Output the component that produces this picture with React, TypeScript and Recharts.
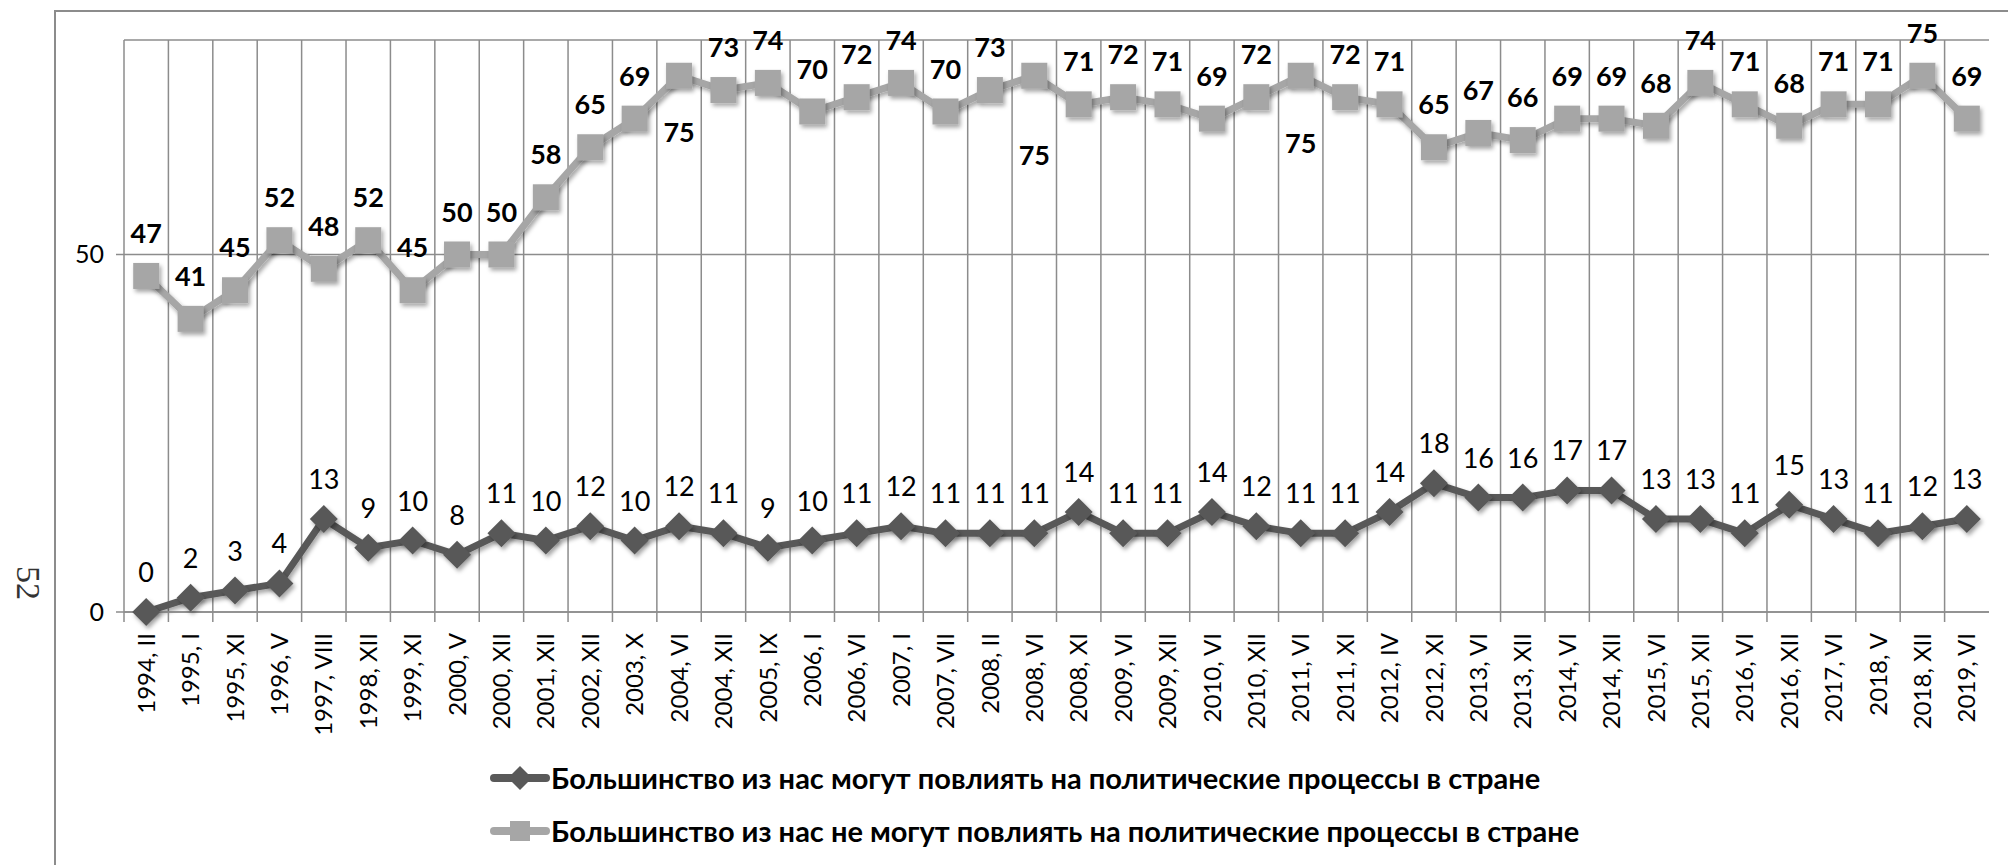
import React from 'react';
import { LineChart, Line, XAxis, YAxis, CartesianGrid, LabelList, Legend } from 'recharts';

const periods = [
  '1994, II', '1995, I', '1995, XI', '1996, V', '1997, VIII', '1998, XII', '1999, XI', '2000, V',
  '2000, XII', '2001, XII', '2002, XII', '2003, X', '2004, VI', '2004, XII', '2005, IX', '2006, I',
  '2006, VI', '2007, I', '2007, VII', '2008, II', '2008, VI', '2008, XI', '2009, VI', '2009, XII',
  '2010, VI', '2010, XII', '2011, VI', '2011, XI', '2012, IV', '2012, XI', '2013, VI', '2013, XII',
  '2014, VI', '2014, XII', '2015, VI', '2015, XII', '2016, VI', '2016, XII', '2017, VI', '2018, V',
  '2018, XII', '2019, VI',
];

const canInfluence = [
  0, 2, 3, 4, 13, 9, 10, 8, 11, 10, 12, 10, 12, 11, 9, 10, 11, 12, 11, 11, 11,
  14, 11, 11, 14, 12, 11, 11, 14, 18, 16, 16, 17, 17, 13, 13, 11, 15, 13, 11, 12, 13,
];

const cannotInfluence = [
  47, 41, 45, 52, 48, 52, 45, 50, 50, 58, 65, 69, 75, 73, 74, 70, 72, 74, 70, 73, 75,
  71, 72, 71, 69, 72, 75, 72, 71, 65, 67, 66, 69, 69, 68, 74, 71, 68, 71, 71, 75, 69,
];

const yTicks = [0, 50];

const seriesNames = [
  'Большинство из нас могут повлиять на политические процессы в стране',
  'Большинство из нас не могут повлиять на политические процессы в стране',
];

const pageNumber = '52';

// periods whose upper-series label is placed below the marker (label placement only)
const labelBelowOffset: Record<string, number> = { '2004, VI': 66, '2008, VI': 89, '2011, VI': 77 };

const data = periods.map((p, i) => ({ period: p, can: canInfluence[i], cannot: cannotInfluence[i] }));

const W = 2008;
const H = 865;
const MARGIN = { top: 40, right: 19, left: 0, bottom: 0 };
const Y_AXIS_W = 124;
const X_AXIS_H = 253;
const PLOT_W = W - MARGIN.left - MARGIN.right - Y_AXIS_W;
const BAND = PLOT_W / periods.length;
const FONT = 'Lato, "Open Sans", sans-serif';
const GRID = '#8c8c8c';
const DARK = '#595959';
const LIGHT = '#a6a6a6';

const XTick = (props: any) => {
  const { x, y, payload } = props;
  return (
    <g>
      <line x1={x - BAND / 2} x2={x - BAND / 2} y1={y} y2={y + 10} stroke={GRID} strokeWidth={1.5} />
      <text
        transform={`translate(${x},${y + 21}) rotate(-90)`}
        textAnchor="end"
        dy="0.36em"
        fontFamily={FONT}
        fontSize={24}
        fill="#000"
      >
        {payload.value}
      </text>
    </g>
  );
};

const SquareDot = (props: any) => {
  const { cx, cy, index } = props;
  if (cx == null || cy == null) return null;
  return <rect key={`sq-${index}`} x={cx - 13} y={cy - 13} width={26} height={26} fill={LIGHT} filter="url(#sh)" />;
};

const DiamondDot = (props: any) => {
  const { cx, cy, index } = props;
  if (cx == null || cy == null) return null;
  const r = 14;
  return (
    <polygon
      key={`dm-${index}`}
      points={`${cx},${cy - r} ${cx + r},${cy} ${cx},${cy + r} ${cx - r},${cy}`}
      fill={DARK}
      filter="url(#sh)"
    />
  );
};

const TopLabel = (props: any) => {
  const { x, y, value, index } = props;
  const off = labelBelowOffset[periods[index]];
  const ty = off !== undefined ? y + off : y - 33;
  return (
    <text x={x} y={ty} textAnchor="middle" fontFamily={FONT} fontWeight={700} fontSize={27} fill="#000">
      {value}
    </text>
  );
};

const BottomLabel = (props: any) => {
  const { x, y, value } = props;
  return (
    <text x={x} y={y - 30} textAnchor="middle" fontFamily={FONT} fontSize={27} fill="#000">
      {value}
    </text>
  );
};

const LegendContent = () => (
  <div style={{ display: 'flex', flexDirection: 'column' }}>
    {seriesNames.map((name, i) => (
      <div key={name} style={{ display: 'flex', alignItems: 'center', height: 53 }}>
        <svg width={62} height={30} style={{ flex: 'none' }}>
          <line x1={5} x2={57} y1={15} y2={15} stroke={i === 0 ? DARK : LIGHT} strokeWidth={8} strokeLinecap="round" />
          {i === 0 ? (
            <polygon points="31,3 43,15 31,27 19,15" fill={DARK} />
          ) : (
            <rect x={21} y={5} width={20} height={20} fill={LIGHT} />
          )}
        </svg>
        <span style={{ fontFamily: FONT, fontWeight: 700, fontSize: 29, color: '#000', whiteSpace: 'nowrap' }}>{name}</span>
      </div>
    ))}
  </div>
);

export default function App() {
  return (
    <div style={{ position: 'fixed', left: 0, top: 0, width: W, height: H, overflow: 'hidden', background: '#fff' }}>
      <svg width={0} height={0} style={{ position: 'absolute' }}>
        <defs>
          <filter id="sh" x="-60%" y="-60%" width="220%" height="220%">
            <feDropShadow dx={2} dy={3} stdDeviation={2} floodColor="#000" floodOpacity={0.35} />
          </filter>
        </defs>
      </svg>
      <div
        style={{
          position: 'absolute',
          left: 54,
          top: 10,
          width: 2200,
          height: 1000,
          borderLeft: '2px solid #8c8c8c',
          borderTop: '2px solid #8c8c8c',
        }}
      />
      <div
        style={{
          position: 'absolute',
          left: 28,
          top: 583,
          transform: 'translate(-50%, -50%) rotate(90deg)',
          fontFamily: '"Liberation Serif", serif',
          fontSize: 34,
          color: '#333',
        }}
      >
        {pageNumber}
      </div>
      <div style={{ position: 'absolute', left: 0, top: 0 }}>
        <LineChart width={W} height={H} data={data} margin={MARGIN}>
          <CartesianGrid
            stroke={GRID}
            strokeWidth={1.5}
            horizontal={true}
            vertical={true}
            verticalCoordinatesGenerator={({ offset }: any) =>
              periods.map((_, i) => offset.left + (i * offset.width) / periods.length)
            }
          />
          <XAxis
            dataKey="period"
            interval={0}
            height={X_AXIS_H}
            padding={{ left: BAND / 2, right: BAND / 2 }}
            tickSize={0}
            tickMargin={0}
            tickLine={false}
            axisLine={{ stroke: GRID, strokeWidth: 1.5 }}
            tick={<XTick />}
          />
          <YAxis
            domain={[0, 80]}
            ticks={yTicks}
            width={Y_AXIS_W}
            axisLine={false}
            tickSize={8}
            tickMargin={12}
            tickLine={{ stroke: GRID, strokeWidth: 1.5 }}
            tick={{ fontFamily: FONT, fontSize: 25, fill: '#000' }}
          />
          <Legend
            layout="horizontal"
            verticalAlign="middle"
            align="center"
            wrapperStyle={{ left: 489, top: 751, width: 1400, height: 110 }}
            content={<LegendContent />}
          />
          <Line
            dataKey="cannot"
            name={seriesNames[1]}
            stroke={LIGHT}
            strokeWidth={7}
            dot={<SquareDot />}
            activeDot={false}
            isAnimationActive={false}
            filter="url(#sh)"
          >
            <LabelList dataKey="cannot" content={<TopLabel />} />
          </Line>
          <Line
            dataKey="can"
            name={seriesNames[0]}
            stroke={DARK}
            strokeWidth={7}
            dot={<DiamondDot />}
            activeDot={false}
            isAnimationActive={false}
            filter="url(#sh)"
          >
            <LabelList dataKey="can" content={<BottomLabel />} />
          </Line>
        </LineChart>
      </div>
    </div>
  );
}
